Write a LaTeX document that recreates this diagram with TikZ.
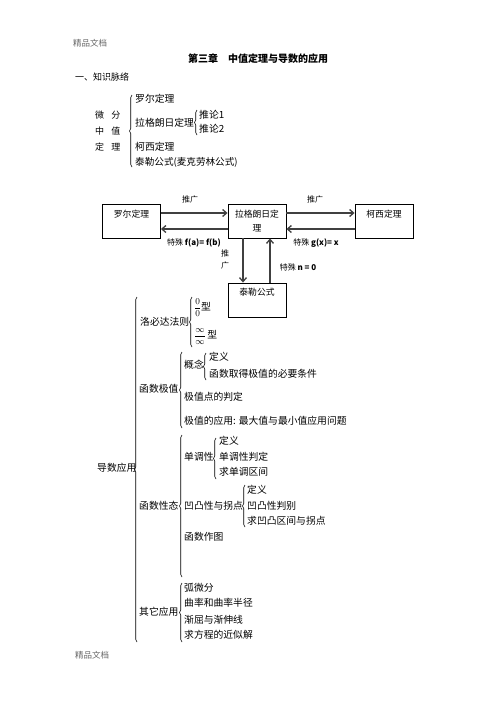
\documentclass[tikz,border=0pt]{standalone}
\usepackage{fontspec}
\setmainfont{Noto Sans CJK SC}
\usetikzlibrary{arrows.meta,decorations.pathreplacing}
\begin{document}
\begin{tikzpicture}[x=1pt,y=-1pt,
  txt/.style={anchor=west,inner sep=0pt,font=\fontsize{9.8}{11}\selectfont},
  lbl/.style={inner sep=0pt,font=\fontsize{8}{10}\selectfont},
  boxtxt/.style={inner sep=0pt,align=center,font=\fontsize{8.8}{14}\selectfont},
  box/.style={draw,line width=0.9pt,minimum width=58pt,minimum height=34pt,inner sep=0pt},
  arr/.style={draw=black!75,line width=1.3pt,-{Straight Barb[length=4pt,width=7pt]}},
  brc/.style={decorate,decoration={brace,amplitude=2.5pt},line width=0.6pt}]
\useasboundingbox (0,0) rectangle (496,702);
% header
\node[txt,text=black!60,font=\fontsize{8.5}{10}\selectfont] (hdr) at (73,43) {精品文档};
\node[txt,font=\bfseries\fontsize{10}{12}\selectfont] (title) at (188,59) {第三章\hspace{1em}中值定理与导数的应用};
\node[txt,font=\fontsize{9}{11}\selectfont] (sec) at (75,77) {一、知识脉络};
% section 1
\node[txt,font=\fontsize{9}{11}\selectfont] (w1) at (95,115) {微\hspace{0.8em}分};
\node[txt,font=\fontsize{9}{11}\selectfont] (w2) at (95,131) {中\hspace{0.8em}值};
\node[txt,font=\fontsize{9}{11}\selectfont] (w3) at (95,147) {定\hspace{0.8em}理};
\draw[brc] (132,167) -- (132,95);
\node[txt] (a1) at (135,99) {罗尔定理};
\node[txt] (a2) at (135,123) {拉格朗日定理};
\draw[brc] (197,135) -- (197,110);
\node[txt] (a21) at (199,115) {推论1};
\node[txt] (a22) at (199,129) {推论2};
\node[txt] (a3) at (135,147) {柯西定理};
\node[txt,font=\fontsize{9.6}{11}\selectfont] (a4) at (135,162) {泰勒公式(麦克劳林公式)};
% section 2 flowchart
\node[box] (rolle) at (131.5,221) {};
\node[boxtxt] (rolleT) at (131.5,214) {罗尔定理};
\node[box] (lag) at (257,221) {};
\node[boxtxt] (lagT) at (257,221) {拉格朗日定\\理};
\node[box] (cau) at (384,221) {};
\node[boxtxt] (cauT) at (384,214) {柯西定理};
\node[box] (tay) at (257,300) {};
\node[boxtxt] (tayT) at (257,292) {泰勒公式};
\draw[arr] ([yshift=8pt]rolle.east) -- ([yshift=8pt]lag.west);
\draw[arr] ([yshift=-8pt]lag.west) -- ([yshift=-8pt]rolle.east);
\draw[arr] ([yshift=8pt]lag.east) -- ([yshift=8pt]cau.west);
\draw[arr] ([yshift=-8pt]cau.west) -- ([yshift=-8pt]lag.east);
\draw[arr] ([xshift=-14pt]lag.south) -- ([xshift=-14pt]tay.north);
\draw[arr] ([xshift=13pt]tay.north) -- ([xshift=13pt]lag.south);
\node[lbl] (l1) at (190,199) {推广};
\node[lbl] (l2) at (315,199) {推广};
\node[lbl] (l3) at (194,243) {特殊 \textbf{f(a)= f(b)}};
\node[lbl] (l4) at (316,243) {特殊 \textbf{g(x)= x}};
\node[lbl,align=center,font=\fontsize{8}{12}\selectfont] (l5) at (225,259) {推\\广};
\node[lbl] (l6) at (298,267) {特殊 \textbf{n = 0}};
% section 3
\node[txt] (d0) at (97,468) {导数应用};
\draw[brc] (137,642) -- (137,297);
\node[txt] (b1) at (140,322) {洛必达法则};
\draw[brc] (192,347) -- (192,297);
\node[txt] (b11) at (194,308) {{\fontsize{9.5}{10}\selectfont$\displaystyle\frac{0}{0}$}型};
\node[txt] (b12) at (194,337) {{\fontsize{9.5}{10}\selectfont$\displaystyle\frac{\infty}{\infty}$}\,型};
\node[txt] (b2) at (139,389) {函数极值};
\draw[brc] (182,428) -- (182,352);
\node[txt] (b21) at (184,365) {概念};
\draw[brc] (206,380) -- (206,353);
\node[txt] (b211) at (209,357) {定义};
\node[txt] (b212) at (209,374) {函数取得极值的必要条件};
\node[txt] (b22) at (184,397) {极值点的判定};
\node[txt] (b23) at (184,421) {极值的应用: 最大值与最小值应用问题};
\node[txt] (b3) at (139,506) {函数性态};
\draw[brc] (182,577) -- (182,435);
\node[txt] (b31) at (184,457) {单调性};
\draw[brc] (216,479) -- (216,438);
\node[txt] (b311) at (219,441) {定义};
\node[txt] (b312) at (219,457) {单调性判定};
\node[txt] (b313) at (219,472) {求单调区间};
\node[txt] (b32) at (184,506) {凹凸性与拐点};
\draw[brc] (245,527) -- (245,485);
\node[txt] (b321) at (247,490) {定义};
\node[txt] (b322) at (247,506) {凹凸性判别};
\node[txt] (b323) at (247,521) {求凹凸区间与拐点};
\node[txt] (b33) at (184,537) {函数作图};
\node[txt] (b4) at (139,612) {其它应用};
\draw[brc] (182,642) -- (182,583);
\node[txt] (b41) at (184,588) {弧微分};
\node[txt] (b42) at (184,603) {曲率和曲率半径};
\node[txt] (b43) at (184,620) {渐屈与渐伸线};
\node[txt] (b44) at (184,635) {求方程的近似解};
% footer
\node[txt,text=black!60,font=\fontsize{8.5}{10}\selectfont] (ftr) at (75,655) {精品文档};
\end{tikzpicture}
\end{document}
